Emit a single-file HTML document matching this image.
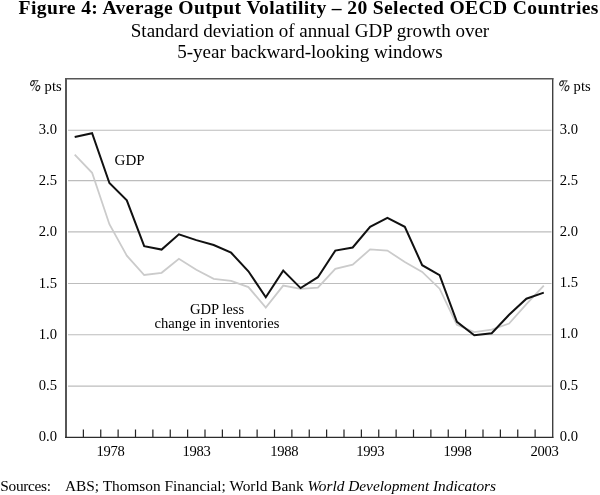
<!DOCTYPE html>
<html><head><meta charset="utf-8"><title>Figure 4</title>
<style>
html,body{margin:0;padding:0;background:#fff;}
body{width:600px;height:495px;position:relative;overflow:hidden;font-family:"Liberation Serif",serif;color:#000;}
div{position:absolute;white-space:nowrap;}
.t{left:18px;width:582px;text-align:center;}
.yl{left:0;width:57px;text-align:right;font-size:14.6px;line-height:16px;}
.yr{left:559.7px;font-size:14.6px;line-height:16px;}
.xl{top:442.8px;width:60px;text-align:center;font-size:14.6px;line-height:16px;letter-spacing:-0.3px;}
.s{font-size:15.35px;line-height:17px;top:477px;}
.a{font-size:14.6px;line-height:16px;text-align:center;}
#w{left:0;top:0;width:600px;height:495px;overflow:hidden;filter:grayscale(1);background:#fff;}
</style></head><body><div id="w">
<div class="t" style="top:-4.4px;margin-left:-0.3px;font-weight:bold;font-size:19.6px;letter-spacing:0.36px;line-height:24px;">Figure 4: Average Output Volatility – 20 Selected OECD Countries</div>
<div class="t" style="top:19.5px;margin-left:1px;font-size:19.03px;line-height:21px;">Standard deviation of annual GDP growth over</div>
<div class="t" style="top:41px;margin-left:1px;font-size:19.06px;line-height:21px;">5-year backward-looking windows</div>
<svg width="600" height="495" style="position:absolute;left:0;top:0">
<line x1="68" x2="551.5" y1="386.10" y2="386.10" stroke="#bdbdbd" stroke-width="1.1"/><line x1="68" x2="551.5" y1="334.70" y2="334.70" stroke="#bdbdbd" stroke-width="1.1"/><line x1="68" x2="551.5" y1="283.50" y2="283.50" stroke="#bdbdbd" stroke-width="1.1"/><line x1="68" x2="551.5" y1="231.90" y2="231.90" stroke="#bdbdbd" stroke-width="1.1"/><line x1="68" x2="551.5" y1="180.60" y2="180.60" stroke="#bdbdbd" stroke-width="1.1"/><line x1="68" x2="551.5" y1="130.20" y2="130.20" stroke="#bdbdbd" stroke-width="1.1"/>
<polyline points="74.7,154.7 92.1,172.8 109.4,224.2 126.8,255.6 144.2,275.0 161.6,272.8 178.9,258.8 196.3,269.7 213.7,278.9 231.1,280.8 248.4,287.1 265.8,307.5 283.2,285.6 300.6,288.8 317.9,287.6 335.3,268.8 352.7,264.7 370.1,249.4 387.4,250.6 404.8,262.0 422.2,271.9 439.6,288.7 456.9,324.8 474.3,332.1 491.7,329.7 509.1,323.6 526.4,304.2 543.8,285.6" fill="none" stroke="#cbcbcb" stroke-width="1.8" stroke-linejoin="miter"/>
<polyline points="74.7,137.0 92.1,133.2 109.4,183.0 126.8,200.3 144.2,246.2 161.6,249.6 178.9,234.3 196.3,240.1 213.7,245.0 231.1,252.7 248.4,271.3 265.8,297.3 283.2,270.6 300.6,288.1 317.9,277.2 335.3,250.6 352.7,247.5 370.1,226.8 387.4,217.9 404.8,226.8 422.2,265.2 439.6,275.2 456.9,321.9 474.3,335.3 491.7,333.3 509.1,314.7 526.4,298.7 543.8,292.6" fill="none" stroke="#111" stroke-width="2.0" stroke-linejoin="miter"/>
<line x1="83.38" x2="83.38" y1="429.5" y2="437.0" stroke="#222" stroke-width="1.2"/><line x1="100.75" x2="100.75" y1="429.5" y2="437.0" stroke="#222" stroke-width="1.2"/><line x1="118.12" x2="118.12" y1="429.5" y2="437.0" stroke="#222" stroke-width="1.2"/><line x1="135.50" x2="135.50" y1="429.5" y2="437.0" stroke="#222" stroke-width="1.2"/><line x1="152.88" x2="152.88" y1="429.5" y2="437.0" stroke="#222" stroke-width="1.2"/><line x1="170.25" x2="170.25" y1="429.5" y2="437.0" stroke="#222" stroke-width="1.2"/><line x1="187.62" x2="187.62" y1="429.5" y2="437.0" stroke="#222" stroke-width="1.2"/><line x1="205.00" x2="205.00" y1="429.5" y2="437.0" stroke="#222" stroke-width="1.2"/><line x1="222.38" x2="222.38" y1="429.5" y2="437.0" stroke="#222" stroke-width="1.2"/><line x1="239.75" x2="239.75" y1="429.5" y2="437.0" stroke="#222" stroke-width="1.2"/><line x1="257.12" x2="257.12" y1="429.5" y2="437.0" stroke="#222" stroke-width="1.2"/><line x1="274.50" x2="274.50" y1="429.5" y2="437.0" stroke="#222" stroke-width="1.2"/><line x1="291.88" x2="291.88" y1="429.5" y2="437.0" stroke="#222" stroke-width="1.2"/><line x1="309.25" x2="309.25" y1="429.5" y2="437.0" stroke="#222" stroke-width="1.2"/><line x1="326.62" x2="326.62" y1="429.5" y2="437.0" stroke="#222" stroke-width="1.2"/><line x1="344.00" x2="344.00" y1="429.5" y2="437.0" stroke="#222" stroke-width="1.2"/><line x1="361.38" x2="361.38" y1="429.5" y2="437.0" stroke="#222" stroke-width="1.2"/><line x1="378.75" x2="378.75" y1="429.5" y2="437.0" stroke="#222" stroke-width="1.2"/><line x1="396.12" x2="396.12" y1="429.5" y2="437.0" stroke="#222" stroke-width="1.2"/><line x1="413.50" x2="413.50" y1="429.5" y2="437.0" stroke="#222" stroke-width="1.2"/><line x1="430.88" x2="430.88" y1="429.5" y2="437.0" stroke="#222" stroke-width="1.2"/><line x1="448.25" x2="448.25" y1="429.5" y2="437.0" stroke="#222" stroke-width="1.2"/><line x1="465.62" x2="465.62" y1="429.5" y2="437.0" stroke="#222" stroke-width="1.2"/><line x1="483.00" x2="483.00" y1="429.5" y2="437.0" stroke="#222" stroke-width="1.2"/><line x1="500.38" x2="500.38" y1="429.5" y2="437.0" stroke="#222" stroke-width="1.2"/><line x1="517.75" x2="517.75" y1="429.5" y2="437.0" stroke="#222" stroke-width="1.2"/><line x1="535.12" x2="535.12" y1="429.5" y2="437.0" stroke="#222" stroke-width="1.2"/>
<path d="M66 77.9 V438" fill="none" stroke="#565656" stroke-width="2"/>
<path d="M552.7 77.9 V438" fill="none" stroke="#404040" stroke-width="1.4"/>
<path d="M65 78.75 H553.4" fill="none" stroke="#565656" stroke-width="1.7"/>
<path d="M65 437.35 H553.4" fill="none" stroke="#2c2c2c" stroke-width="1.3"/>
<g fill="none" stroke="#1a1a1a" stroke-linecap="round">
<ellipse cx="32.45" cy="83.2" rx="1.65" ry="2.45" transform="rotate(22 32.45 83.2)" stroke-width="1.05"/>
<path d="M32.9 80.75 L37.8 80.7" stroke-width="0.9"/>
<path d="M37.9 80.7 L32.3 90.4" stroke-width="0.55"/>
<ellipse cx="37.85" cy="88.05" rx="1.75" ry="2.6" transform="rotate(22 37.85 88.05)" stroke-width="1.05"/>
</g>
<g transform="translate(529.1 0.2)" fill="none" stroke="#1a1a1a" stroke-linecap="round">
<ellipse cx="32.45" cy="83.2" rx="1.65" ry="2.45" transform="rotate(22 32.45 83.2)" stroke-width="1.05"/>
<path d="M32.9 80.75 L37.8 80.7" stroke-width="0.9"/>
<path d="M37.9 80.7 L32.3 90.4" stroke-width="0.55"/>
<ellipse cx="37.85" cy="88.05" rx="1.75" ry="2.6" transform="rotate(22 37.85 88.05)" stroke-width="1.05"/>
</g>
</svg>
<div class="yl" style="top:427.8px">0.0</div><div class="yr" style="top:427.6px">0.0</div><div class="yl" style="top:376.8px">0.5</div><div class="yr" style="top:376.6px">0.5</div><div class="yl" style="top:325.6px">1.0</div><div class="yr" style="top:325.4px">1.0</div><div class="yl" style="top:274.5px">1.5</div><div class="yr" style="top:274.3px">1.5</div><div class="yl" style="top:223.4px">2.0</div><div class="yr" style="top:223.2px">2.0</div><div class="yl" style="top:172.2px">2.5</div><div class="yr" style="top:172.0px">2.5</div><div class="yl" style="top:121.1px">3.0</div><div class="yr" style="top:120.9px">3.0</div>
<div class="xl" style="left:80.6px">1978</div><div class="xl" style="left:166.5px">1983</div><div class="xl" style="left:254.3px">1988</div><div class="xl" style="left:340.2px">1993</div><div class="xl" style="left:427.5px">1998</div><div class="xl" style="left:514.4px">2003</div>
<div style="left:44.6px;top:78.2px;font-size:14.6px;line-height:16px;">pts</div>
<div style="left:573.6px;top:78.4px;font-size:14.6px;line-height:16px;">pts</div>
<div class="a" style="left:114.6px;top:152.2px;font-size:15px">GDP</div>
<div class="a" style="left:153px;width:128px;top:300.6px;">GDP less</div>
<div class="a" style="left:153px;width:128px;top:314.5px;">change in inventories</div>
<div class="s" style="left:0.3px;letter-spacing:-0.3px;">Sources:</div>
<div class="s" style="left:65px;">ABS; Thomson Financial; World Bank <i>World Development Indicators</i></div>
</div></body></html>
